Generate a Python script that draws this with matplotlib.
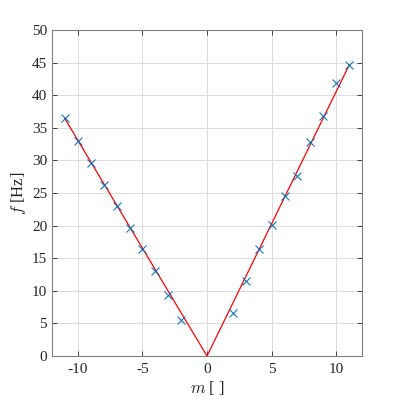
import matplotlib
matplotlib.use('Agg')
import matplotlib.pyplot as plt

# measured points (mode number m, frequency f)
m_neg = [-11, -10, -9, -8, -7, -6, -5, -4, -3, -2]
f_neg = [36.45, 33.0, 29.65, 26.3, 22.95, 19.7, 16.35, 13.0, 9.35, 5.5]
m_pos = [2, 3, 4, 5, 6, 7, 8, 9, 10, 11]
f_pos = [6.65, 11.55, 16.4, 20.1, 24.6, 27.65, 32.8, 36.8, 41.8, 44.7]

# fitted line
fit_m = [-11, 0, 11]
fit_f = [36.4, 0, 44.6]

x_ticks = [-10, -5, 0, 5, 10]
y_ticks = [0, 5, 10, 15, 20, 25, 30, 35, 40, 45, 50]

plt.rcParams['font.family'] = 'Liberation Serif'
plt.rcParams['mathtext.fontset'] = 'cm'
plt.rcParams['axes.unicode_minus'] = False

fig = plt.figure(figsize=(4, 4), dpi=100)
ax = fig.add_axes([0.13, 0.11, 0.775, 0.815])

ax.plot(fit_m, fit_f, color='red', linewidth=0.9, zorder=2)
ax.plot(m_neg + m_pos, f_neg + f_pos, linestyle='none', marker='x',
        color='#0072BD', markersize=5.5, markeredgewidth=0.75, zorder=3)

ax.set_xlim(-12, 12)
ax.set_ylim(0, 50)
ax.set_xticks(x_ticks)
ax.set_yticks(y_ticks)
ax.set_xlabel(r'$m$ [ ]', fontsize=12, color='#262626', labelpad=2)
ax.set_ylabel(r'$f$ [Hz]', fontsize=12, color='#262626', labelpad=3)

ax.grid(True, color='#dcdcdc', linewidth=0.7)
ax.set_axisbelow(True)
ax.tick_params(direction='in', length=3.5, width=0.7, colors='#404040',
               labelsize=11, top=True, right=True, labelcolor='#262626')
ax.tick_params(axis='x', pad=5)
for s in ax.spines.values():
    s.set_color('#808080')
    s.set_linewidth(0.8)

plt.savefig('out.png', dpi=100)
